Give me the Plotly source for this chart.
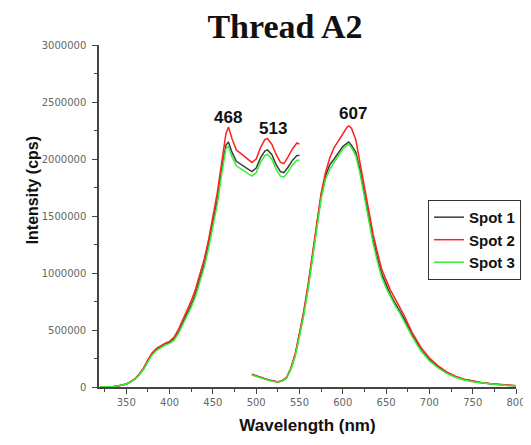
import plotly.graph_objects as go

# Segment 1 (excitation-side spectrum), nm
wl1 = [320, 325, 330, 335, 340, 345, 350, 355, 360, 365, 370, 375, 380, 385, 390, 395,
       400, 405, 410, 415, 420, 425, 430, 435, 440, 445, 450, 455, 460, 465, 468, 472,
       477, 485, 490, 495, 500, 505, 510, 513, 518, 523, 528, 532, 537, 542, 547, 550]
spot1_a = [0, 0, 2000, 5000, 8000, 15000, 25000, 45000, 70000, 110000, 160000, 230000, 290000, 330000, 355000, 375000,
           390000, 420000, 480000, 560000, 640000, 720000, 820000, 940000, 1080000, 1250000, 1440000, 1640000, 1900000, 2120000, 2150000, 2060000,
           1980000, 1940000, 1910000, 1890000, 1920000, 2010000, 2070000, 2080000, 2040000, 1950000, 1890000, 1880000, 1930000, 1990000, 2030000, 2030000]
spot2_a = [0, 0, 2000, 5000, 8000, 15000, 26000, 47000, 73000, 115000, 168000, 240000, 300000, 340000, 365000, 385000,
           400000, 435000, 500000, 585000, 670000, 755000, 860000, 980000, 1120000, 1290000, 1490000, 1700000, 1960000, 2220000, 2280000, 2180000,
           2080000, 2030000, 2000000, 1970000, 2000000, 2100000, 2170000, 2180000, 2130000, 2040000, 1970000, 1960000, 2020000, 2090000, 2140000, 2130000]
spot3_a = [0, 0, 2000, 5000, 8000, 15000, 24000, 43000, 68000, 106000, 155000, 222000, 282000, 322000, 348000, 368000,
           382000, 408000, 465000, 540000, 620000, 700000, 795000, 915000, 1050000, 1215000, 1400000, 1600000, 1860000, 2090000, 2110000, 2020000,
           1940000, 1900000, 1870000, 1850000, 1880000, 1970000, 2030000, 2040000, 2000000, 1910000, 1850000, 1840000, 1890000, 1950000, 1990000, 1990000]

# Segment 2 (emission-side spectrum), nm
wl2 = [495, 500, 505, 510, 515, 520, 525, 530, 535, 540, 545, 550, 555, 560, 565, 570,
       575, 580, 585, 590, 595, 600, 605, 607, 610, 615, 620, 625, 630, 635, 640, 645,
       650, 655, 660, 665, 670, 680, 690, 700, 710, 720, 730, 740, 750, 760, 770, 780, 790, 800]
spot1_b = [110000, 95000, 85000, 72000, 60000, 50000, 45000, 55000, 80000, 160000, 280000, 460000, 650000, 880000, 1150000, 1430000,
           1680000, 1850000, 1950000, 2000000, 2050000, 2110000, 2140000, 2150000, 2120000, 2060000, 1900000, 1700000, 1500000, 1290000, 1130000, 990000,
           900000, 810000, 740000, 680000, 610000, 460000, 330000, 240000, 175000, 125000, 90000, 65000, 48000, 37000, 28000, 20000, 14000, 10000]
spot2_b = [112000, 97000, 86000, 73000, 61000, 51000, 46000, 56000, 82000, 165000, 290000, 475000, 670000, 905000, 1180000, 1460000,
           1700000, 1880000, 2010000, 2100000, 2160000, 2230000, 2280000, 2290000, 2270000, 2170000, 1960000, 1760000, 1550000, 1340000, 1180000, 1030000,
           940000, 850000, 780000, 710000, 640000, 480000, 350000, 255000, 185000, 132000, 95000, 69000, 51000, 39000, 30000, 22000, 15000, 11000]
spot3_b = [105000, 92000, 82000, 70000, 58000, 48000, 43000, 52000, 76000, 152000, 268000, 445000, 630000, 860000, 1120000, 1400000,
           1650000, 1820000, 1910000, 1970000, 2030000, 2090000, 2120000, 2130000, 2100000, 2030000, 1870000, 1670000, 1470000, 1260000, 1100000, 960000,
           870000, 790000, 720000, 660000, 590000, 445000, 320000, 230000, 168000, 120000, 86000, 62000, 46000, 35000, 27000, 19000, 13000, 9000]

series_names = ["Spot 1", "Spot 2", "Spot 3"]
series_colors = ["#3a3a3a", "#ff2020", "#33ee33"]
seg_a = [spot1_a, spot2_a, spot3_a]
seg_b = [spot1_b, spot2_b, spot3_b]

peak_labels = ["468", "513", "607"]
peak_x = [468, 519, 612]
peak_y = [2360000, 2270000, 2400000]

fig = go.Figure()
for name, color, ya, yb in zip(series_names, series_colors, seg_a, seg_b):
    fig.add_trace(go.Scatter(x=wl1, y=ya, mode="lines", name=f"<b>{name}</b>", legendgroup=name,
                             line=dict(color=color, width=1.5)))
    fig.add_trace(go.Scatter(x=wl2, y=yb, mode="lines", name=name, legendgroup=name,
                             showlegend=False, line=dict(color=color, width=1.5)))

for t, x, y in zip(peak_labels, peak_x, peak_y):
    fig.add_annotation(x=x, y=y, text=f"<b>{t}</b>", showarrow=False,
                       font=dict(family="Arial, Liberation Sans", size=17, color="#111"))

fig.add_annotation(xref="paper", yref="paper", x=-0.185, y=0.576, text="<b>Intensity (cps)</b>",
                   textangle=-90, showarrow=False,
                   font=dict(family="Arial, Liberation Sans", size=16, color="#111"))

fig.update_layout(
    width=531, height=445,
    margin=dict(l=91, r=23, t=37, b=66),
    paper_bgcolor="white", plot_bgcolor="white",
    title=dict(text="<b>Thread A2</b>", x=277/531, xanchor="center", y=1 - 18/445, yanchor="middle",
               font=dict(family="Times New Roman, Liberation Serif", size=34, color="#111")),
    legend=dict(x=0.789, y=0.547, xanchor="left", yanchor="top",
                bordercolor="#333", borderwidth=1, bgcolor="white",
                font=dict(family="Arial, Liberation Sans", size=15, color="#111"),
                tracegroupgap=0, itemwidth=30),
    showlegend=True,
)

tickfont = dict(family="DejaVu Sans", size=10, color="#666")
fig.update_xaxes(range=[318.5, 800], tickmode="array", tickvals=[350, 400, 450, 500, 550, 600, 650, 700, 750, 800],
                 ticks="outside", ticklen=5, tickwidth=1.2, tickcolor="#444",
                 minor=dict(dtick=25, tick0=325, ticks="outside", ticklen=3, tickcolor="#444"),
                 showline=True, linecolor="#444", linewidth=1.5, showgrid=False, zeroline=False,
                 tickfont=tickfont, ticklabeloverflow="allow",
                 title=dict(text="<b>Wavelength (nm)</b>", standoff=12,
                            font=dict(family="Arial, Liberation Sans", size=17, color="#111")))
fig.update_yaxes(range=[0, 3000000], tickvals=[0, 500000, 1000000, 1500000, 2000000, 2500000, 3000000],
                 ticktext=["0", "500000", "1000000", "1500000", "2000000", "2500000", "3000000"],
                 ticks="outside", ticklen=5, tickwidth=1.2, tickcolor="#444",
                 minor=dict(dtick=250000, ticks="outside", ticklen=3, tickcolor="#444"),
                 showline=True, linecolor="#444", linewidth=1.5, showgrid=False, zeroline=False,
                 tickfont=tickfont, ticklabelstandoff=4)

fig.write_html("out.html")
